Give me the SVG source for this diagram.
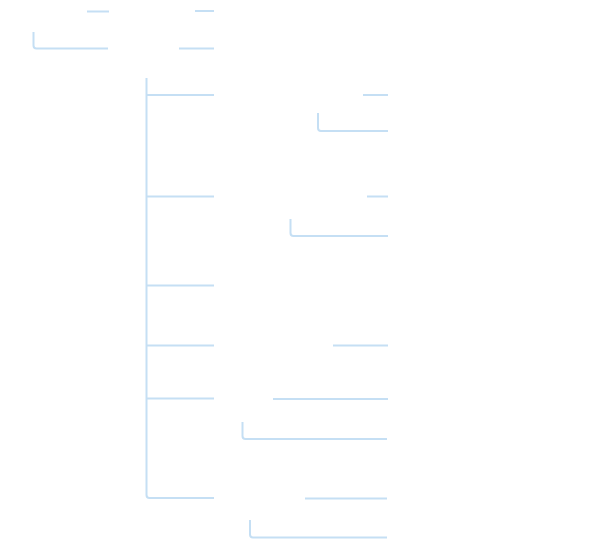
<svg xmlns="http://www.w3.org/2000/svg" width="612" height="548" viewBox="0 0 612 548">
<style>
.c{fill:none;stroke:#c5dff4;stroke-width:2;stroke-linecap:butt}
</style>
<rect width="612" height="548" fill="#ffffff"/>
<g id="connectors" class="c">
<path d="M87 11.5H109"/>
<path d="M195 11H214"/>
<path d="M33.5 32V45.5Q33.5 48.5 36.5 48.5H108"/>
<path d="M179 48.5H214"/>
<path d="M146.5 78V495Q146.5 498 149.5 498H214"/>
<path d="M146.5 95H214"/>
<path d="M146.5 196.5H214"/>
<path d="M146.5 285.5H214"/>
<path d="M146.5 345.5H214"/>
<path d="M146.5 398.5H214"/>
<path d="M363 95H388"/>
<path d="M318 113V128Q318 131 321 131H388"/>
<path d="M367 196.5H388"/>
<path d="M290.5 219V233Q290.5 236 293.5 236H388"/>
<path d="M333 345.5H388"/>
<path d="M273 399H388"/>
<path d="M242.5 422V436Q242.5 439 245.5 439H387"/>
<path d="M305 498.5H387"/>
<path d="M250 520V534.5Q250 537.5 253 537.5H387"/>
</g>
</svg>
